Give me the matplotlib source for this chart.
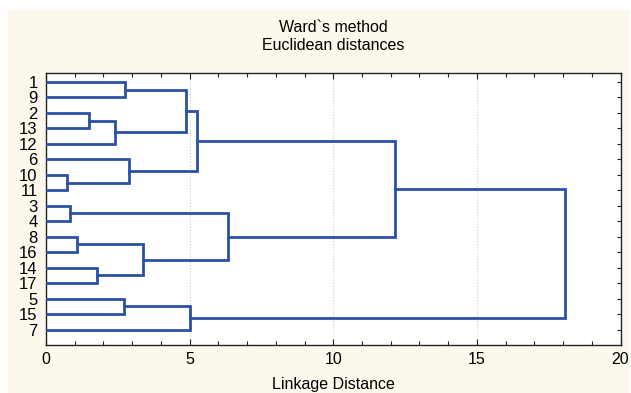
import matplotlib.pyplot as plt
import numpy as np
from matplotlib.patches import Rectangle
from matplotlib.ticker import MultipleLocator

plt.rcParams["font.family"] = ["Liberation Sans", "DejaVu Sans"]

# leaves in display order (top to bottom)
leaf_labels = ['1', '9', '2', '13', '12', '6', '10', '11', '3', '4',
               '8', '16', '14', '17', '5', '15', '7']

# merges, scipy-like: node ids 0..16 are leaves, 17.. are clusters
merge_a = [6, 8, 10, 2, 12, 20, 14, 0, 5, 19, 24, 23, 27, 18, 29, 31]
merge_b = [7, 9, 11, 3, 13, 4, 15, 1, 17, 21, 22, 16, 25, 26, 30, 28]
merge_h = [0.72, 0.83, 1.09, 1.51, 1.78, 2.40, 2.71, 2.76, 2.90, 3.38,
           4.87, 5.03, 5.24, 6.35, 12.16, 18.07]

line_col = '#2b50a8'
n = len(leaf_labels)

fig = plt.figure(figsize=(6.31, 3.93), dpi=100)
fig.patch.set_facecolor('white')
fig.patches.append(Rectangle((8 / 631, 0), 1 - 9 / 631, 1 - 10 / 393,
                             transform=fig.transFigure, facecolor='#fdf8ec',
                             edgecolor='none', zorder=-10))

ax = fig.add_axes([46 / 631, 1 - 345 / 393, 574.5 / 631, 272 / 393])
ax.set_facecolor('white')

# positions (y) and heights (x) of every node
ypos = {i: i + 1.0 for i in range(n)}
xpos = {i: 0.0 for i in range(n)}
for k, (a, b, h) in enumerate(zip(merge_a, merge_b, merge_h)):
    node = n + k
    ax.plot([xpos[a], h, h, xpos[b]], [ypos[a], ypos[a], ypos[b], ypos[b]],
            color=line_col, lw=2.0, solid_joinstyle='miter', zorder=3)
    ypos[node] = (ypos[a] + ypos[b]) / 2
    xpos[node] = h

ax.set_xlim(0, 20)
ax.set_ylim(18.0, 0.42)
ax.set_yticks(np.arange(1, n + 1))
ax.set_yticklabels(leaf_labels, fontsize=12)
ax.xaxis.set_major_locator(MultipleLocator(5))
ax.xaxis.set_minor_locator(MultipleLocator(1))
ax.tick_params(axis='x', which='both', direction='in', top=True,
               labelsize=11.5, pad=5, color='#222222')
ax.tick_params(axis='x', which='major', length=4, width=0.8)
ax.tick_params(axis='x', which='minor', length=3, width=0.8)
ax.tick_params(axis='y', which='both', direction='in', left=False, right=True,
               length=3, width=0.8, pad=6, color='#222222')
ax.grid(axis='x', which='major', color='#cccccc', linestyle=':', lw=0.8)
for s in ax.spines.values():
    s.set_color('#222222')
    s.set_linewidth(1.0)

ax.set_xlabel('Linkage Distance', fontsize=11.5, labelpad=7)
fig.text(333 / 631, 1 - 27 / 393, 'Ward`s method', ha='center', va='center', fontsize=11.5)
fig.text(333 / 631, 1 - 46 / 393, 'Euclidean distances', ha='center', va='center', fontsize=11.5)

fig.savefig('out.png', dpi=100, facecolor=fig.get_facecolor())
